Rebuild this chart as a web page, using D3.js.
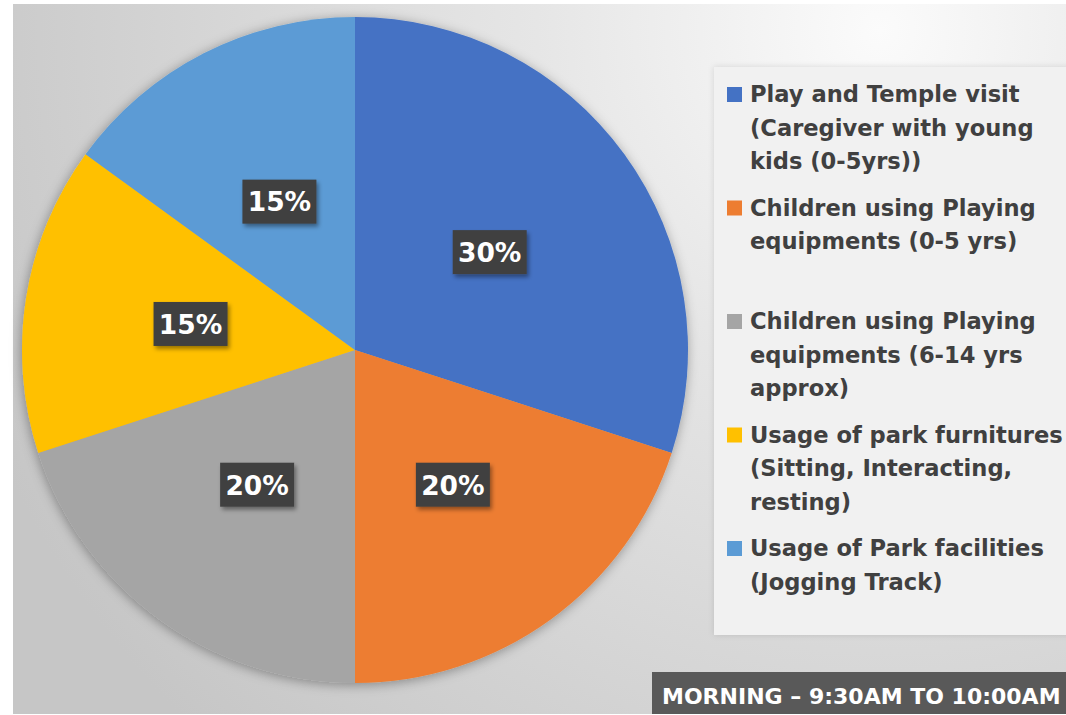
<!DOCTYPE html>
<html>
<head>
<meta charset="utf-8">
<script src="https://cdn.jsdelivr.net/npm/d3@7"></script>
<style>
  html, body { margin: 0; padding: 0; background: #ffffff; }
  svg { display: block; }
</style>
</head>
<body>
<svg id="chart" width="1066" height="715"></svg>
<script>
// ---- data ----
const categories = [
  "Play and Temple visit (Caregiver with young kids (0-5yrs))",
  "Children using Playing equipments (0-5 yrs)",
  "Children using Playing equipments (6-14 yrs approx)",
  "Usage of park furnitures (Sitting, Interacting, resting)",
  "Usage of Park facilities (Jogging Track)"
];
const legendLines = [
  ["Play and Temple visit", "(Caregiver with young", "kids (0-5yrs))"],
  ["Children using Playing", "equipments (0-5 yrs)", ""],
  ["Children using Playing", "equipments (6-14 yrs", "approx)"],
  ["Usage of park furnitures", "(Sitting, Interacting,", "resting)"],
  ["Usage of Park facilities", "(Jogging Track)"]
];
const values = [30, 20, 20, 15, 15];
const colors = ["#4472C4", "#ED7D31", "#A5A5A5", "#FFC000", "#5B9BD5"];
const caption = "MORNING \u2013 9:30AM TO 10:00AM";

// ---- layout ----
const W = 1066, H = 715;
const cx = 355, cy = 350, R = 333;
const FONT = "'DejaVu Sans', sans-serif";

const svg = d3.select("#chart");
const defs = svg.append("defs");

const bg = defs.append("radialGradient").attr("id", "bg")
  .attr("gradientUnits", "userSpaceOnUse")
  .attr("cx", 880).attr("cy", 30).attr("r", 980);
bg.append("stop").attr("offset", 0).attr("stop-color", "#fbfbfb");
bg.append("stop").attr("offset", 0.35).attr("stop-color", "#e6e6e6");
bg.append("stop").attr("offset", 1).attr("stop-color", "#c6c6c6");

const pieShadow = defs.append("filter").attr("id", "pieShadow")
  .attr("x", "-10%").attr("y", "-10%").attr("width", "120%").attr("height", "120%");
pieShadow.append("feDropShadow").attr("dx", -1).attr("dy", 2)
  .attr("stdDeviation", 6).attr("flood-color", "#000").attr("flood-opacity", 0.35);

const boxShadow = defs.append("filter").attr("id", "boxShadow")
  .attr("x", "-20%").attr("y", "-20%").attr("width", "150%").attr("height", "160%");
boxShadow.append("feDropShadow").attr("dx", 2).attr("dy", 3)
  .attr("stdDeviation", 2).attr("flood-color", "#000").attr("flood-opacity", 0.4);

const legShadow = defs.append("filter").attr("id", "legShadow")
  .attr("x", "-10%").attr("y", "-10%").attr("width", "120%").attr("height", "120%");
legShadow.append("feDropShadow").attr("dx", 0).attr("dy", 0)
  .attr("stdDeviation", 3).attr("flood-color", "#000").attr("flood-opacity", 0.12);

// background
svg.append("rect").attr("x", 13).attr("y", 4).attr("width", W - 13).attr("height", H - 5)
  .attr("fill", "url(#bg)");

// legend panel
svg.append("rect").attr("x", 714).attr("y", 67).attr("width", W - 714 + 10).attr("height", 568)
  .attr("fill", "#f1f1f1").attr("filter", "url(#legShadow)");

// pie
const pie = d3.pie().sort(null).value(d => d)(values);
const arc = d3.arc().innerRadius(0).outerRadius(R);
const labelArc = d3.arc().innerRadius(R * 0.5).outerRadius(R * 0.5);

const g = svg.append("g").attr("transform", `translate(${cx},${cy})`);
g.append("g").attr("filter", "url(#pieShadow)")
  .selectAll("path").data(pie).join("path")
  .attr("d", arc).attr("fill", (d, i) => colors[i]);

const total = d3.sum(values);
const fmt = d3.format(".0%");
const lab = g.selectAll("g.lab").data(pie).join("g").attr("class", "lab")
  .attr("transform", d => `translate(${labelArc.centroid(d)})`);
lab.append("rect").attr("x", -37).attr("y", -22).attr("width", 74).attr("height", 44)
  .attr("fill", "#404040").attr("filter", "url(#boxShadow)");
lab.append("text").attr("text-anchor", "middle").attr("dy", "0.37em")
  .attr("fill", "#ffffff").attr("font-family", FONT).attr("font-weight", "bold")
  .attr("font-size", 26.5)
  .text(d => fmt(d.data / total));

// legend
const lineH = 33.5, itemGap = 13;
let y = 102;
const leg = svg.append("g");
legendLines.forEach((lines, i) => {
  leg.append("rect").attr("x", 727).attr("y", y - 15).attr("width", 15).attr("height", 15)
    .attr("fill", colors[i]);
  const t = leg.append("text").attr("font-family", FONT).attr("font-weight", "bold")
    .attr("font-size", 22.6).attr("fill", "#404040");
  lines.forEach((ln, j) => {
    t.append("tspan").attr("x", 750).attr("y", y + j * lineH).text(ln);
  });
  y += lines.length * lineH + itemGap;
});

// caption
svg.append("rect").attr("x", 652).attr("y", 672).attr("width", W - 652).attr("height", 42)
  .attr("fill", "#595959");
svg.append("text").attr("x", 662).attr("y", 704)
  .attr("font-family", FONT).attr("font-weight", "bold").attr("font-size", 22)
  .attr("fill", "#ffffff").text(caption);
</script>
</body>
</html>
